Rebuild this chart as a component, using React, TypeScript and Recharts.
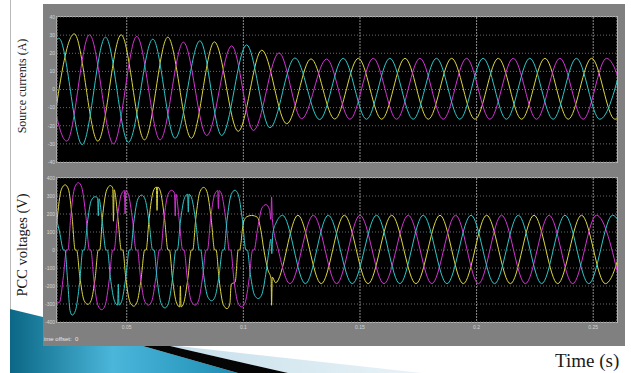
import React from 'react';
import { LineChart, Line, XAxis, YAxis, CartesianGrid } from 'recharts';

const YELLOW = '#dcd640';
const MAGENTA = '#d433d4';
const CYAN = '#2ec6c8';

const timeDomain = [0.0201, 0.2602];
const timeTicks = [0.05, 0.1, 0.15, 0.2, 0.25];
const currentTicks = [-40, -30, -20, -10, 0, 10, 20, 30, 40];
const voltageTicks = [-400, -300, -200, -100, 0, 100, 200, 300, 400];

// source currents: [time s, current A] at each crest / trough
const currentYellow = [
  [0.0176, -29.5], [0.0275, 30.7], [0.0376, -28.5], [0.0476, 30.2], [0.0576, -27.8], [0.0676, 28.9],
  [0.0777, -26.9], [0.0876, 26.3], [0.0978, -23.1], [0.1079, 21.7], [0.1186, -18.9], [0.129, 16.9],
  [0.1392, -16.3], [0.1493, 17.2], [0.1593, -16.4], [0.1693, 17.2], [0.1793, -16.4], [0.1893, 17.2],
  [0.1993, -16.4], [0.2093, 17.2], [0.2193, -16.4], [0.2293, 17.2], [0.2393, -16.4], [0.2493, 17.2],
  [0.2593, -16.4], [0.2693, 17.2],
];
const currentMagenta = [
  [0.0143, 28.0], [0.0243, -28.5], [0.034, 30.2], [0.0443, -30.0], [0.0543, 29.3], [0.0643, -27.8],
  [0.0743, 26.1], [0.0843, -25.4], [0.095, 24.1], [0.1043, -22.6], [0.1153, 20.2], [0.125, -16.1],
  [0.1357, 16.8], [0.1457, -16.4], [0.1557, 17.2], [0.1657, -16.4], [0.1757, 17.2], [0.1857, -16.4],
  [0.1957, 17.2], [0.2057, -16.4], [0.2157, 17.2], [0.2257, -16.4], [0.2357, 17.2], [0.2457, -16.4],
  [0.2557, 17.2], [0.2657, -16.4],
];
const currentCyan = [
  [0.011, -30.0], [0.0209, 28.3], [0.0309, -30.4], [0.0409, 28.9], [0.0507, -29.1], [0.0612, 27.8],
  [0.0707, -26.9], [0.0814, 26.9], [0.0907, -25.4], [0.1014, 24.6], [0.1114, -21.1], [0.1221, 17.4],
  [0.1327, -16.6], [0.1428, 17.2], [0.1528, -16.4], [0.1628, 17.2], [0.1728, -16.4], [0.1828, 17.2],
  [0.1928, -16.4], [0.2028, 17.2], [0.2128, -16.4], [0.2228, 17.2], [0.2328, -16.4], [0.2428, 17.2],
  [0.2528, -16.4], [0.2628, 17.2],
];

// PCC voltages: [time s, voltage V], distorted (clipped tops, notches) until ~0.112 s
const voltageYellow = [
  [0.02, 150], [0.022, 338], [0.0236, 362], [0.025, 338], [0.0266, 180], [0.0279, 0], [0.0285, 0],
  [0.0299, -150], [0.0317, -280], [0.0333, -302], [0.0347, -282], [0.0365, -150], [0.0378, 0], [0.0384, 0],
  [0.0396, 180], [0.0414, 333], [0.043, 358], [0.044, 345], [0.0443, 160], [0.0446, 335], [0.0462, 180],
  [0.0477, 0], [0.0483, 0], [0.0496, -156], [0.0514, -290], [0.053, -312], [0.0544, -290], [0.0562, -156],
  [0.0577, 0], [0.0583, 0], [0.0596, 176], [0.0614, 327], [0.0627, 350], [0.063, 220], [0.0633, 350],
  [0.0644, 327], [0.0662, 176], [0.0677, 0], [0.0683, 0], [0.0696, -159], [0.0714, -296], [0.0727, -316],
  [0.073, -200], [0.0733, -316], [0.0744, -296], [0.0762, -159], [0.0777, 0], [0.0783, 0], [0.0796, 174],
  [0.0814, 324], [0.083, 348], [0.0844, 324], [0.0862, 174], [0.0877, 0], [0.0883, 0], [0.0896, -163],
  [0.0914, -303], [0.093, -326], [0.0942, -300], [0.0948, -190], [0.0965, -178], [0.0978, 0], [0.0984, 0],
  [0.1, 150], [0.1015, 185], [0.1035, 192], [0.106, 182], [0.1075, 110], [0.1088, 0], [0.1105, -110],
  [0.1119, -160], [0.1121, -307], [0.1124, -150], [0.1138, -182],
  [0.1234, 193], [0.1334, -187], [0.1433, 193], [0.1535, -187], [0.1636, 193], [0.174, -187],
  [0.1843, 193], [0.1943, -187], [0.2043, 193], [0.2145, -187], [0.2246, 193], [0.2348, -187],
  [0.245, 193], [0.2552, -187], [0.2652, 193],
];
const voltageMagenta = [
  [0.0195, -297], [0.0212, -290], [0.0228, -150], [0.0242, 0], [0.0248, 0],
  [0.026, 187], [0.0277, 348], [0.0293, 374], [0.0307, 348], [0.0325, 187], [0.034, 0], [0.0346, 0],
  [0.0359, -166], [0.0377, -309], [0.0393, -332], [0.0407, -309], [0.0425, -166], [0.044, 0], [0.0446, 0],
  [0.0459, 166], [0.0477, 309], [0.049, 330], [0.0493, 200], [0.0496, 330], [0.0507, 309], [0.0525, 166],
  [0.054, 0], [0.0546, 0], [0.0559, -153], [0.0577, -285], [0.0593, -306], [0.0607, -285], [0.0625, -153],
  [0.064, 0], [0.0646, 0], [0.0659, 166], [0.0677, 309], [0.0693, 332], [0.0705, 315], [0.0708, 190],
  [0.0711, 310], [0.0725, 166], [0.074, 0], [0.0746, 0], [0.0759, -153], [0.0777, -285], [0.0793, -306],
  [0.0807, -285], [0.0825, -153], [0.084, 0], [0.0846, 0], [0.0859, 166], [0.0877, 309], [0.089, 330],
  [0.0893, 230], [0.0896, 330], [0.0907, 309], [0.0925, 166], [0.094, 0], [0.0946, 0], [0.0959, -158],
  [0.0977, -294], [0.0993, -316], [0.1007, -294], [0.1025, -158], [0.104, 0], [0.1046, 0], [0.1062, 126],
  [0.108, 234], [0.1097, 252], [0.1112, 225], [0.1118, 170], [0.1121, 295], [0.1124, 175], [0.115, 0],
  [0.12, -187], [0.13, 193], [0.14, -187], [0.15, 193], [0.1603, -187], [0.1707, 193],
  [0.1808, -187], [0.191, 193], [0.2008, -187], [0.2107, 193], [0.2209, -187], [0.2311, 193],
  [0.2412, -187], [0.2514, 193], [0.2615, -187],
];
const voltageCyan = [
  [0.0195, 190], [0.0212, 100], [0.0229, 0], [0.0235, 0], [0.0247, -181], [0.0257, -337], [0.0266, -362],
  [0.028, -337], [0.0298, -181], [0.0312, 0], [0.0318, 0], [0.0331, 148], [0.0348, 275], [0.0364, 296],
  [0.0375, 290], [0.0378, 190], [0.0381, 285], [0.0396, 148], [0.0411, 0], [0.0417, 0], [0.043, -154],
  [0.0448, -286], [0.0461, -306], [0.0464, -190], [0.0467, -306], [0.0478, -286], [0.0496, -154],
  [0.0511, 0], [0.0517, 0], [0.053, 152], [0.0548, 284], [0.0564, 305], [0.0578, 284], [0.0596, 152],
  [0.0611, 0], [0.0617, 0], [0.063, -161], [0.0648, -299], [0.0664, -322], [0.0678, -299], [0.0696, -161],
  [0.0711, 0], [0.0717, 0], [0.073, 156], [0.0748, 290], [0.0761, 310], [0.0764, 210], [0.0767, 310],
  [0.0778, 290], [0.0796, 156], [0.0811, 0], [0.0817, 0], [0.083, -141], [0.0848, -262], [0.0864, -282],
  [0.0878, -262], [0.0896, -141], [0.0911, 0], [0.0917, 0], [0.093, 166], [0.0948, 309], [0.0964, 332],
  [0.0978, 309], [0.0996, 166], [0.1011, 0], [0.1017, 0], [0.103, -135], [0.1048, -251], [0.1064, -270],
  [0.1078, -251], [0.1096, -135], [0.111, 0], [0.1118, 60], [0.1122, -20], [0.1126, 90], [0.114, 150],
  [0.1168, 193], [0.1266, -187], [0.1364, 193], [0.1467, -187], [0.1571, 193],
  [0.1671, -187], [0.1771, 193], [0.1873, -187], [0.1976, 193], [0.2077, -187], [0.2179, 193],
  [0.2279, -187], [0.2379, 193], [0.2481, -187], [0.2583, 193], [0.2685, -187],
];

const toRows = (pts: number[][]) => pts.map(([t, v]) => ({ t, v }));

const tickStyle = { fontSize: 5, fill: '#d6d6d6', fontFamily: 'Liberation Sans, Arial, sans-serif' };

function Scope({ series, yTicks, height, showTime }: any) {
  return (
    <LineChart width={574} height={height} margin={{ top: 4, right: 0, bottom: showTime ? 0 : 4, left: 0 }}>
      <CartesianGrid vertical={false} stroke="#6a6a6a" strokeDasharray="1 2" />
      <CartesianGrid horizontal={false} stroke="#8c8c8c" strokeDasharray="2 1" />
      <XAxis
        type="number"
        dataKey="t"
        domain={timeDomain}
        ticks={timeTicks}
        allowDataOverflow
        hide={!showTime}
        height={showTime ? 12 : 0}
        tick={tickStyle}
        tickLine={false}
        axisLine={false}
        tickSize={0}
        tickMargin={3}
      />
      <YAxis
        type="number"
        domain={[yTicks[0], yTicks[yTicks.length - 1]]}
        ticks={yTicks}
        allowDataOverflow
        width={14}
        tick={tickStyle}
        tickLine={false}
        axisLine={false}
        tickSize={0}
        tickMargin={2}
        interval={0}
      />
      {series.map((s: any) => (
        <Line
          key={s.name}
          data={toRows(s.points)}
          dataKey="v"
          type="monotone"
          stroke={s.color}
          strokeWidth={1}
          dot={false}
          isAnimationActive={false}
        />
      ))}
    </LineChart>
  );
}

const currentSeries = [
  { name: 'ia', color: YELLOW, points: currentYellow },
  { name: 'ib', color: MAGENTA, points: currentMagenta },
  { name: 'ic', color: CYAN, points: currentCyan },
];
const voltageSeries = [
  { name: 'va', color: YELLOW, points: voltageYellow },
  { name: 'vb', color: MAGENTA, points: voltageMagenta },
  { name: 'vc', color: CYAN, points: voltageCyan },
];

const serif = '"Liberation Serif", "Times New Roman", serif';

export default function App() {
  return (
    <div style={{ position: 'absolute', left: 0, top: 0, width: 631, height: 373, background: '#fff', overflow: 'hidden' }}>
      <svg width={631} height={373} style={{ position: 'absolute', left: 0, top: 0 }}>
        <defs>
          <linearGradient id="teal" x1="0" y1="0" x2="1" y2="0">
            <stop offset="0%" stopColor="#0b6785" />
            <stop offset="45%" stopColor="#4bb6da" />
            <stop offset="100%" stopColor="#1e8db3" />
          </linearGradient>
          <linearGradient id="pale" x1="0" y1="0" x2="1" y2="0">
            <stop offset="0%" stopColor="#c6dfeb" />
            <stop offset="100%" stopColor="#e9f3f7" />
          </linearGradient>
        </defs>
        <line x1={10.5} y1={0} x2={10.5} y2={310} stroke="#b9b9b9" strokeWidth={1} />
        <polygon points="10,309 43,317 43,346 143,346 238,373 10,373" fill="url(#teal)" />
        <polygon points="170,346 178,346 422,373 288,373" fill="url(#pale)" />
        <polygon points="143,346 170,346 288,373 238,373" fill="#050505" />
      </svg>

      <div style={{ position: 'absolute', left: 43, top: 4, width: 582, height: 342, background: '#808080' }} />
      <div style={{ position: 'absolute', left: 56, top: 16, width: 562, height: 147, background: '#000', border: '1px solid #b4b4b4', boxSizing: 'border-box' }} />
      <div style={{ position: 'absolute', left: 56, top: 177, width: 562, height: 146, background: '#000', border: '1px solid #b4b4b4', boxSizing: 'border-box' }} />

      <div style={{ position: 'absolute', left: 43, top: 13 }}>
        <Scope series={currentSeries} yTicks={currentTicks} height={153} showTime={false} />
      </div>
      <div style={{ position: 'absolute', left: 43, top: 174 }}>
        <Scope series={voltageSeries} yTicks={voltageTicks} height={160} showTime />
      </div>

      <div style={{ position: 'absolute', left: 44, top: 336, fontSize: 6, color: '#e6e6e6', fontFamily: 'Liberation Sans, Arial, sans-serif' }}>
        ime offset:&nbsp;&nbsp;0
      </div>

      <div style={{ position: 'absolute', left: 22, top: 86, transform: 'translate(-50%, -50%) rotate(-90deg)', whiteSpace: 'nowrap', fontFamily: serif, fontSize: 12, color: '#1a1a1a' }}>
        Source currents (A)
      </div>
      <div style={{ position: 'absolute', left: 22, top: 245, transform: 'translate(-50%, -50%) rotate(-90deg)', whiteSpace: 'nowrap', fontFamily: serif, fontSize: 14.5, color: '#1a1a1a' }}>
        PCC voltages (V)
      </div>
      <div style={{ position: 'absolute', left: 555, top: 350, whiteSpace: 'nowrap', fontFamily: serif, fontSize: 19, color: '#1a1a1a' }}>
        Time (s)
      </div>
    </div>
  );
}
